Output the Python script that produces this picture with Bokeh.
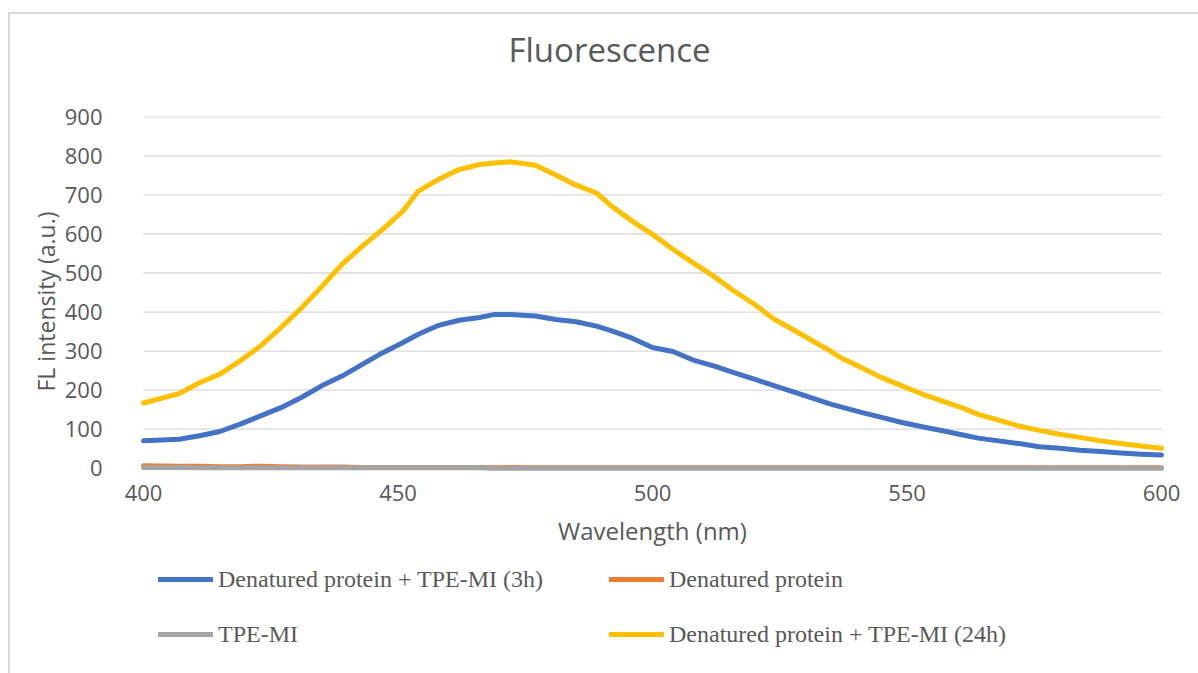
from bokeh.plotting import figure
from bokeh.models import Range1d, Legend, LegendItem, FixedTicker, Title
from bokeh.embed import file_html
from bokeh.resources import INLINE

# Emission wavelength (nm)
wavelength = [400, 407, 411, 415, 419, 423, 427, 431, 435, 439, 443, 447, 451, 454,
              458, 462, 466, 469, 472, 477, 481, 485, 489, 492, 496, 500, 504, 508,
              512, 516, 520, 524, 528, 532, 535, 537, 541, 545, 549, 553, 557, 561,
              564, 568, 572, 576, 580, 584, 588, 592, 596, 600]

# FL intensity (a.u.) for each sample
protein_tpe_3h = [70, 74, 83, 94, 113, 134, 155, 181, 211, 236, 266, 296, 322, 343,
                  366, 379, 386, 394, 394, 390, 381, 375, 364, 352, 333, 309, 299, 277,
                  262, 245, 228, 211, 194, 177, 164, 157, 143, 130, 117, 106, 96, 85,
                  77, 70, 63, 55, 51, 46, 43, 39, 36, 34]
protein_only = [6, 5, 5, 4, 4, 5, 4, 3, 3, 3, 2, 2, 2, 2,
                2, 2, 2, 1, 2, 1, 1, 1, 1, 1, 1, 1, 1, 1,
                1, 1, 1, 1, 1, 1, 1, 1, 1, 1, 1, 1, 1, 1,
                1, 1, 1, 1, 1, 1, 1, 1, 1, 1]
tpe_mi = [2, 2, 1, 1, 1, 1, 1, 1, 1, 1, 1, 1, 1, 1,
          1, 1, 1, 0, 0, 0, 0, 0, 0, 0, 0, 0, 0, 0,
          0, 0, 0, 0, 0, 0, 0, 0, 0, 0, 0, 0, 0, 0,
          0, 0, 0, 0, 0, 0, 0, 0, 0, 0]
protein_tpe_24h = [167, 191, 219, 241, 275, 313, 360, 410, 465, 522, 569, 612, 659, 710,
                   740, 765, 778, 782, 785, 776, 751, 725, 705, 671, 633, 599, 561, 526,
                   492, 454, 420, 381, 352, 322, 300, 283, 258, 232, 211, 190, 172, 154,
                   138, 123, 108, 97, 87, 79, 70, 63, 57, 51]

series_names = ["Denatured protein + TPE-MI (3h)", "Denatured protein", "TPE-MI",
                "Denatured protein + TPE-MI (24h)"]
series_colors = ["#4472C4", "#ED7D31", "#A5A5A5", "#FFC000"]
series_values = [protein_tpe_3h, protein_only, tpe_mi, protein_tpe_24h]

x_ticks = [400, 450, 500, 550, 600]
y_ticks = [0, 100, 200, 300, 400, 500, 600, 700, 800, 900]

TEXT = "#595959"
SANS = "Open Sans"

# plot area: 1018 px for 400-600 nm, plus a little room on each side so the
# end tick labels are not cut
PLOT_W = 1018
SIDE_PAD = 21
nm_pad = SIDE_PAD * (x_ticks[-1] - x_ticks[0]) / PLOT_W

# The plotting frame reaches down to the bottom of the chart area so that the
# x axis (pinned at y = 0) and the legend underneath it are drawn inside it.
# The chart area sits 8 px from the left and 12 px from the top of the page,
# with its light frame drawn on the left and top edges.
p = figure(frame_width=PLOT_W + 2 * SIDE_PAD, frame_height=557, output_backend="svg",
           toolbar_location=None,
           x_range=Range1d(x_ticks[0] - nm_pad, x_ticks[-1] + nm_pad),
           y_range=Range1d(-526, 901),
           min_border_left=133 - SIDE_PAD, min_border_right=37 - SIDE_PAD,
           min_border_top=102, min_border_bottom=0, margin=(12, 0, 0, 8),
           styles={"border-left": "2px solid #D9D9D9",
                   "border-top": "2px solid #D9D9D9"})
p.outline_line_color = None
p.background_fill_color = "white"
p.border_fill_color = "white"

# title block: a blank second line keeps the title well above the grid
p.title.text = "Fluorescence\n "
p.title.align = "left"
p.title.offset = 365 + SIDE_PAD
p.title.standoff = 0
p.title.text_font = SANS
p.title.text_font_size = "33px"
p.title.text_font_style = "normal"
p.title.text_line_height = 1.0
p.title.text_color = TEXT

# horizontal grid lines across 400-600 nm
p.xgrid.visible = False
p.ygrid.visible = False
p.segment(x0=[x_ticks[0]] * len(y_ticks), x1=[x_ticks[-1]] * len(y_ticks),
          y0=y_ticks, y1=y_ticks, line_color="#D9D9D9", line_width=1.3,
          level="underlay")

renderers = []
for vals, col in zip(series_values, series_colors):
    r = p.line(wavelength, vals, line_color=col, line_width=5, line_cap="round",
               line_join="round")
    renderers.append(r)

# axes
for ax in (p.xaxis[0], p.yaxis[0]):
    ax.axis_line_color = None
    ax.major_tick_line_color = None
    ax.minor_tick_line_color = None
    ax.major_tick_out = 0
    ax.major_tick_in = 0
    ax.major_label_text_font = SANS
    ax.major_label_text_font_size = "22px"
    ax.major_label_text_color = TEXT
    ax.axis_label_text_font = SANS
    ax.axis_label_text_font_size = "24px"
    ax.axis_label_text_font_style = "normal"
    ax.axis_label_text_color = TEXT

p.xaxis.ticker = FixedTicker(ticks=x_ticks)
p.yaxis.ticker = FixedTicker(ticks=y_ticks)
p.xaxis.bounds = (x_ticks[0], x_ticks[-1])
p.xaxis.fixed_location = 0
p.xaxis.axis_label = "Wavelength (nm)"
p.xaxis.major_label_standoff = 17
p.xaxis.axis_label_standoff = 9
p.yaxis.major_label_standoff = 20

# y axis title, centred on the 0-900 span
p.add_layout(Title(text="FL intensity (a.u.)", align="left", offset=282,
                   standoff=0, text_font=SANS, text_font_size="23px",
                   text_font_style="normal", text_color=TEXT), "left")

legend = Legend(items=[LegendItem(label=n, renderers=[r])
                       for n, r in zip(series_names, renderers)],
                location=(SIDE_PAD + 15, 17), orientation="horizontal", ncols=2)
legend.label_text_font = "Liberation Serif"
legend.label_text_font_size = "24px"
legend.label_text_color = TEXT
legend.glyph_width = 55
legend.glyph_height = 20
legend.label_standoff = 5
legend.label_width = 380
legend.label_height = 44
legend.spacing = 11
legend.padding = 0
legend.margin = 0
legend.border_line_color = None
legend.background_fill_alpha = 0
p.add_layout(legend, "center")

open("out.html", "w").write(file_html(p, INLINE))
